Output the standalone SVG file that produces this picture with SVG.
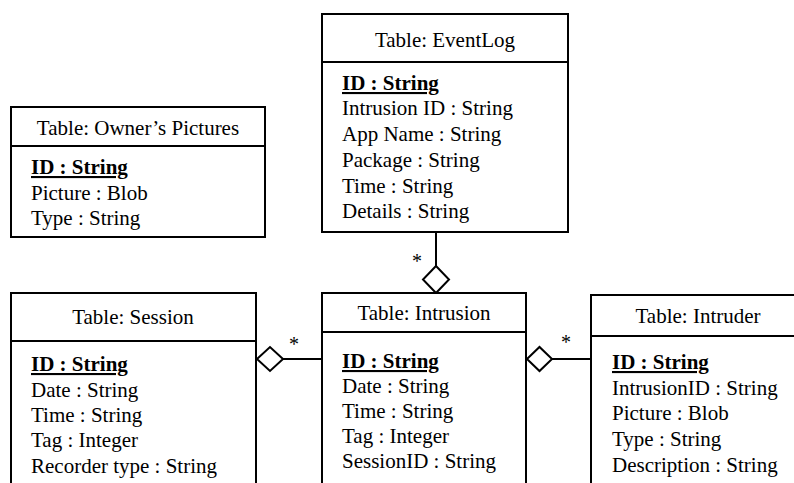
<svg xmlns="http://www.w3.org/2000/svg" width="794" height="483" viewBox="0 0 794 483" font-family="Liberation Serif, serif">
<style>
.box{fill:#fff;stroke:#000;stroke-width:2}
.ln{stroke:#000;stroke-width:2;fill:none}
.dia{fill:#fff;stroke:#000;stroke-width:2}
.f{font-family:'Liberation Serif',serif;font-size:21px;fill:#000}
.t{text-anchor:middle}
.id{font-weight:bold;text-decoration:underline}
.star{font-size:20px;text-anchor:middle}
</style>
<rect width="794" height="483" fill="#fff"/>
<g id="connectors">
<line class="ln" x1="436" y1="232" x2="436" y2="266"/>
<polygon class="dia" points="436,266 449,279.5 436,293 423,279.5"/>
<text class="f star" x="417" y="268">*</text>
<line class="ln" x1="283" y1="359" x2="322" y2="359"/>
<polygon class="dia" points="257,359 270,347 283,359 270,371"/>
<text class="f star" x="294" y="351">*</text>
<line class="ln" x1="552" y1="359" x2="591" y2="359"/>
<polygon class="dia" points="527,359 539.5,347 552,359 539.5,371"/>
<text class="f star" x="566" y="349">*</text>
</g>
<g id="owners-pictures">
<rect class="box" x="11" y="107" width="254" height="130"/>
<line class="ln" x1="11" y1="146" x2="265" y2="146"/>
<text class="f t" x="138" y="135">Table: Owner’s Pictures</text>
<text class="f id" x="31" y="174">ID : String</text>
<text class="f" x="31" y="200">Picture : Blob</text>
<text class="f" x="31" y="225">Type : String</text>
</g>
<g id="eventlog">
<rect class="box" x="322" y="14" width="246" height="218"/>
<line class="ln" x1="322" y1="62" x2="568" y2="62"/>
<text class="f t" x="445" y="47">Table: EventLog</text>
<text class="f id" x="342" y="90">ID : String</text>
<text class="f" x="342" y="115">Intrusion ID : String</text>
<text class="f" x="342" y="141">App Name : String</text>
<text class="f" x="342" y="167">Package : String</text>
<text class="f" x="342" y="193">Time : String</text>
<text class="f" x="342" y="218">Details : String</text>
</g>
<g id="session">
<rect class="box" x="11" y="293" width="245" height="210"/>
<line class="ln" x1="11" y1="341" x2="256" y2="341"/>
<text class="f t" x="133" y="324">Table: Session</text>
<text class="f id" x="31" y="371">ID : String</text>
<text class="f" x="31" y="397">Date : String</text>
<text class="f" x="31" y="422">Time : String</text>
<text class="f" x="31" y="447">Tag : Integer</text>
<text class="f" x="31" y="473">Recorder type : String</text>
</g>
<g id="intrusion">
<rect class="box" x="322" y="293" width="204" height="210"/>
<line class="ln" x1="322" y1="332" x2="526" y2="332"/>
<text class="f t" x="424" y="320">Table: Intrusion</text>
<text class="f id" x="342" y="368">ID : String</text>
<text class="f" x="342" y="393">Date : String</text>
<text class="f" x="342" y="418">Time : String</text>
<text class="f" x="342" y="443">Tag : Integer</text>
<text class="f" x="342" y="468">SessionID : String</text>
</g>
<g id="intruder">
<rect class="box" x="591" y="295" width="215" height="210"/>
<line class="ln" x1="591" y1="336" x2="806" y2="336"/>
<text class="f t" x="698" y="323">Table: Intruder</text>
<text class="f id" x="612" y="369">ID : String</text>
<text class="f" x="612" y="395">IntrusionID : String</text>
<text class="f" x="612" y="420">Picture : Blob</text>
<text class="f" x="612" y="446">Type : String</text>
<text class="f" x="612" y="472">Description : String</text>
</g>
</svg>
